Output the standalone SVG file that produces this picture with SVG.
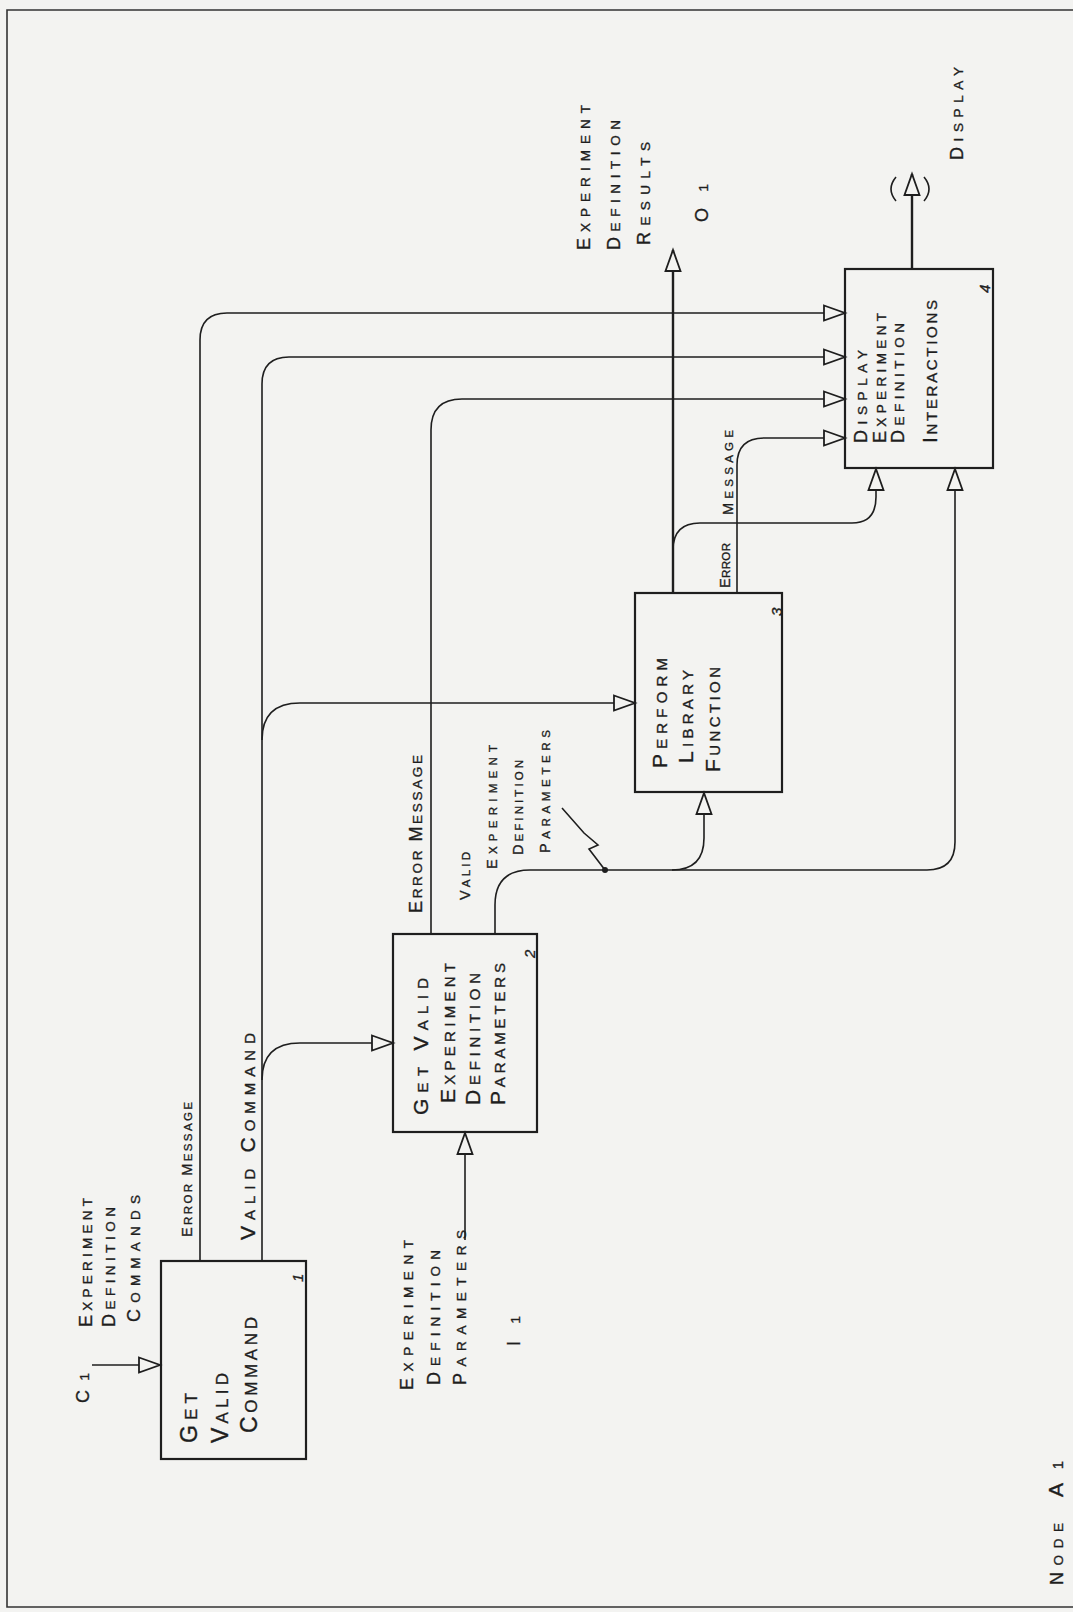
<svg xmlns="http://www.w3.org/2000/svg" width="1073" height="1612" viewBox="0 0 1073 1612">
  <style>
    .bg { fill: #f3f3f1; }
    .frame { fill: none; stroke: #333; stroke-width: 1.6; }
    .box { fill: none; stroke: #1e1e1e; stroke-width: 2.2; }
    .ln { fill: none; stroke: #1e1e1e; stroke-width: 1.6; }
    .thick { stroke-width: 2.4; }
    text { font-family: "Liberation Sans", "DejaVu Sans", sans-serif; fill: #1e1e1e; stroke: #1e1e1e; stroke-width: 0.35; }
    .t1 { font-size: 17px; }
    .t1 .k { font-size: 23px; }
    .t2 { font-size: 15px; }
    .t2 .k { font-size: 21px; }
    .lb { font-size: 13.5px; }
    .lb .k { font-size: 18px; }
    .sm { font-size: 11.5px; }
    .sm .k { font-size: 14.5px; }
    .num { font-size: 15px; font-style: italic; }
  </style>
  <defs>
    <marker id="arr" markerUnits="userSpaceOnUse" markerWidth="26" markerHeight="20" refX="23" refY="10" orient="auto">
      <path d="M2,2.5 L23,10 L2,17.5 Z" fill="#f3f3f1" stroke="#1e1e1e" stroke-width="1.8" stroke-linejoin="miter"/>
    </marker>
  </defs>

  <rect class="bg" x="0" y="0" width="1073" height="1612"/>
  <!-- sheet frame -->
  <path class="frame" d="M1073,10 L7,10 L7,1607 L1073,1607"/>

  <!-- connectors -->
  <g id="connectors">
    <!-- C1 control into box 1 -->
    <path class="ln" d="M92,1365 L160,1365" marker-end="url(#arr)"/>
    <!-- I1 input into box 2 -->
    <path class="ln" d="M465,1240 L465,1133" marker-end="url(#arr)"/>
    <!-- box 1 error message to box 4 -->
    <path class="ln" d="M200,1261 L200,340 Q200,313 227,313 L845,313" marker-end="url(#arr)"/>
    <!-- box 1 valid command to box 4 -->
    <path class="ln" d="M262,1261 L262,384 Q262,357 289,357 L845,357" marker-end="url(#arr)"/>
    <!-- valid command branch to box 3 -->
    <path class="ln" d="M262,740 Q262,703 300,703 L635,703" marker-end="url(#arr)"/>
    <!-- valid command branch to box 2 -->
    <path class="ln" d="M262,1080 Q262,1043 300,1043 L393,1043" marker-end="url(#arr)"/>
    <!-- box 2 error message to box 4 -->
    <path class="ln" d="M431,934 L431,430 Q431,399 462,399 L845,399" marker-end="url(#arr)"/>
    <!-- box 2 valid parameters to box 4 -->
    <path class="ln" d="M495,934 L495,905 Q495,870 530,870 L927,870 Q955,870 955,842 L955,469" marker-end="url(#arr)"/>
    <!-- valid parameters branch to box 3 -->
    <path class="ln" d="M672,870 Q704,870 704,838 L704,793" marker-end="url(#arr)"/>
    <circle cx="605" cy="870" r="3" fill="#1e1e1e"/>
    <path class="ln" d="M605,870 L589,849 L598,845 L584,833 L562,808"/>
    <!-- box 3 results output O1 -->
    <path class="ln thick" d="M673,593 L673,250" marker-end="url(#arr)"/>
    <!-- results branch to box 4 -->
    <path class="ln" d="M673,550 Q673,523 700,523 L852,523 Q876,523 876,497 L876,469" marker-end="url(#arr)"/>
    <!-- box 3 error message to box 4 -->
    <path class="ln" d="M737,593 L737,465 Q737,438 764,438 L845,438" marker-end="url(#arr)"/>
    <!-- box 4 display output -->
    <path class="ln thick" d="M912,269 L912,174" marker-end="url(#arr)"/>
    <path class="ln" d="M896,177 Q886,189 896,201"/>
    <path class="ln" d="M924,177 Q934,189 924,201"/>
  </g>

  <!-- node 1 -->
  <g id="node1">
    <rect class="box" x="161" y="1261" width="145" height="198"/>
    <text class="t1" transform="translate(197,1443) rotate(-90)" textLength="50" lengthAdjust="spacing"><tspan class="k">G</tspan>ET</text>
    <text class="t1" transform="translate(228,1443) rotate(-90)" textLength="70" lengthAdjust="spacing"><tspan class="k">V</tspan>ALID</text>
    <text class="t1" transform="translate(257,1433) rotate(-90)" textLength="116" lengthAdjust="spacing"><tspan class="k">C</tspan>OMMAND</text>
    <text class="num" transform="translate(303,1282) rotate(-90)">1</text>
  </g>

  <!-- node 2 -->
  <g id="node2">
    <rect class="box" x="393" y="934" width="144" height="198"/>
    <text class="t2" transform="translate(428,1115) rotate(-90)" textLength="137" lengthAdjust="spacing"><tspan class="k">G</tspan>ET <tspan class="k">V</tspan>ALID</text>
    <text class="t2" transform="translate(455,1103) rotate(-90)" textLength="140" lengthAdjust="spacing"><tspan class="k">E</tspan>XPERIMENT</text>
    <text class="t2" transform="translate(480,1105) rotate(-90)" textLength="132" lengthAdjust="spacing"><tspan class="k">D</tspan>EFINITION</text>
    <text class="t2" transform="translate(505,1105) rotate(-90)" textLength="142" lengthAdjust="spacing"><tspan class="k">P</tspan>ARAMETERS</text>
    <text class="num" transform="translate(535,958) rotate(-90)">2</text>
  </g>

  <!-- node 3 -->
  <g id="node3">
    <rect class="box" x="635" y="593" width="147" height="199"/>
    <text class="t2" transform="translate(667,768) rotate(-90)" textLength="110" lengthAdjust="spacing"><tspan class="k">P</tspan>ERFORM</text>
    <text class="t2" transform="translate(693,763) rotate(-90)" textLength="93" lengthAdjust="spacing"><tspan class="k">L</tspan>IBRARY</text>
    <text class="t2" transform="translate(720,772) rotate(-90)" textLength="105" lengthAdjust="spacing"><tspan class="k">F</tspan>UNCTION</text>
    <text class="num" transform="translate(782,616) rotate(-90)">3</text>
  </g>

  <!-- node 4 -->
  <g id="node4">
    <rect class="box" x="845" y="269" width="148" height="199"/>
    <text class="lb" transform="translate(867,443) rotate(-90)" textLength="93" lengthAdjust="spacing"><tspan class="k">D</tspan>ISPLAY</text>
    <text class="lb" transform="translate(886,443) rotate(-90)" textLength="130" lengthAdjust="spacing"><tspan class="k">E</tspan>XPERIMENT</text>
    <text class="lb" transform="translate(904,443) rotate(-90)" textLength="120" lengthAdjust="spacing"><tspan class="k">D</tspan>EFINITION</text>
    <text class="t2" transform="translate(937,443) rotate(-90)" textLength="143" lengthAdjust="spacing"><tspan class="k">I</tspan>NTERACTIONS</text>
    <text class="num" transform="translate(990,293) rotate(-90)">4</text>
  </g>

  <!-- arrow labels -->
  <g id="labels">
    <text class="lb" transform="translate(89,1403) rotate(-90)" textLength="30" lengthAdjust="spacing"><tspan class="k">C</tspan>1</text>
    <text class="lb" transform="translate(92,1327) rotate(-90)" textLength="129" lengthAdjust="spacing"><tspan class="k">E</tspan>XPERIMENT</text>
    <text class="lb" transform="translate(115,1327) rotate(-90)" textLength="120" lengthAdjust="spacing"><tspan class="k">D</tspan>EFINITION</text>
    <text class="lb" transform="translate(140,1322) rotate(-90)" textLength="127" lengthAdjust="spacing"><tspan class="k">C</tspan>OMMANDS</text>
    <text class="sm" transform="translate(192,1237) rotate(-90)" textLength="135" lengthAdjust="spacing"><tspan class="k">E</tspan>RROR <tspan class="k">M</tspan>ESSAGE</text>
    <text class="t2" transform="translate(255,1240) rotate(-90)" textLength="207" lengthAdjust="spacing"><tspan class="k">V</tspan>ALID <tspan class="k">C</tspan>OMMAND</text>
    <text class="lb" transform="translate(413,1390) rotate(-90)" textLength="150" lengthAdjust="spacing"><tspan class="k">E</tspan>XPERIMENT</text>
    <text class="lb" transform="translate(440,1385) rotate(-90)" textLength="135" lengthAdjust="spacing"><tspan class="k">D</tspan>EFINITION</text>
    <text class="lb" transform="translate(466,1385) rotate(-90)" textLength="155" lengthAdjust="spacing"><tspan class="k">P</tspan>ARAMETERS</text>
    <text class="lb" transform="translate(520,1346) rotate(-90)" textLength="30" lengthAdjust="spacing"><tspan class="k">I</tspan>1</text>
    <text class="lb" transform="translate(422,913) rotate(-90)" textLength="158" lengthAdjust="spacing"><tspan class="k">E</tspan>RROR <tspan class="k">M</tspan>ESSAGE</text>
    <text class="sm" transform="translate(470,900) rotate(-90)" textLength="48" lengthAdjust="spacing"><tspan class="k">V</tspan>ALID</text>
    <text class="sm" transform="translate(497,869) rotate(-90)" textLength="124" lengthAdjust="spacing"><tspan class="k">E</tspan>XPERIMENT</text>
    <text class="sm" transform="translate(523,855) rotate(-90)" textLength="95" lengthAdjust="spacing"><tspan class="k">D</tspan>EFINITION</text>
    <text class="sm" transform="translate(550,853) rotate(-90)" textLength="123" lengthAdjust="spacing"><tspan class="k">P</tspan>ARAMETERS</text>
    <text class="sm" transform="translate(730,588) rotate(-90)" textLength="45" lengthAdjust="spacing"><tspan class="k">E</tspan>RROR</text>
    <text class="sm" transform="translate(733,515) rotate(-90)" textLength="85" lengthAdjust="spacing"><tspan class="k">M</tspan>ESSAGE</text>
    <text class="lb" transform="translate(590,250) rotate(-90)" textLength="145" lengthAdjust="spacing"><tspan class="k">E</tspan>XPERIMENT</text>
    <text class="lb" transform="translate(620,250) rotate(-90)" textLength="130" lengthAdjust="spacing"><tspan class="k">D</tspan>EFINITION</text>
    <text class="lb" transform="translate(650,245) rotate(-90)" textLength="103" lengthAdjust="spacing"><tspan class="k">R</tspan>ESULTS</text>
    <text class="lb" transform="translate(708,222) rotate(-90)" textLength="38" lengthAdjust="spacing"><tspan class="k">O</tspan>1</text>
    <text class="lb" transform="translate(963,160) rotate(-90)" textLength="93" lengthAdjust="spacing"><tspan class="k">D</tspan>ISPLAY</text>
  </g>

  <!-- sheet node reference -->
  <g id="node-ref">
    <text class="lb" transform="translate(1063,1585) rotate(-90)" textLength="62" lengthAdjust="spacing"><tspan class="k">N</tspan>ODE</text>
    <text class="t2" transform="translate(1063,1497) rotate(-90)" textLength="36" lengthAdjust="spacing"><tspan class="k">A</tspan>1</text>
  </g>
</svg>
